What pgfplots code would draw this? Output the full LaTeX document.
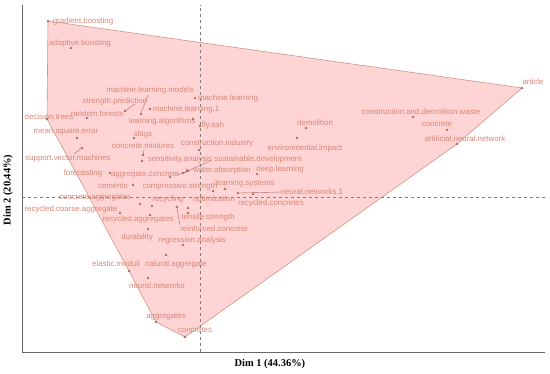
\documentclass[border=0pt]{standalone}
\usepackage{pgfplots}
\pgfplotsset{compat=1.18}
\usepackage{fontspec}
\setmainfont{Liberation Serif}
\newfontfamily\lab{Liberation Sans}
\definecolor{hullfill}{RGB}{255,212,212}
\definecolor{hullline}{RGB}{205,150,130}
\definecolor{labcol}{RGB}{215,135,120}
\definecolor{markcol}{RGB}{165,95,80}
\begin{document}
\begin{tikzpicture}
\begin{axis}[
  scale only axis, width=523bp, height=347bp,
  xmin=-178, xmax=345, ymin=-155, ymax=192,
  axis x line*=bottom, axis y line*=left,
  axis line style={gray!80!black, line width=0.6pt, -},
  ticks=none,
  xlabel={\bfseries Dim 1 (44.36\%)},
  ylabel={\bfseries Dim 2 (20.44\%)},
  xlabel style={at={(axis description cs:0.474,0)}, anchor=center, yshift=-12bp, font=\fontsize{10.5}{12}\selectfont},
  ylabel style={at={(axis description cs:0,0.467)}, anchor=center, yshift=14bp, font=\fontsize{10.5}{12}\selectfont},
  unbounded coords=jump,
  clip=false,
]
% convex hull
\addplot[fill=hullfill, draw=hullline, line width=0.6pt] coordinates {
 (-152,176) (322,109) (257,53) (-15,-140) (-44,-125) (-71,-74) (-153,78) (-152,176)};
% reference lines
\addplot[gray, dashed, line width=0.5pt] coordinates {(0,-155) (0,192)};
\addplot[gray, dashed, line width=0.5pt] coordinates {(-178,0) (345,0)};
% leader lines
\addplot[labcol!80!black, line width=0.4pt] coordinates {
 (-52,102) (-59,84) (nan,nan)
 (-65,93) (-75,86) (nan,nan)
 (-56,47) (-57,42) (nan,nan)
 (12,37) (-17,24) (nan,nan)
 (81,5) (40,4) (nan,nan)
 (-118,49) (-126,43) (nan,nan)
 (-23,-11) (-20,-28) (nan,nan)
 (-23,22) (-10,26)};
% points
\addplot[only marks, mark=triangle*, mark size=1.1pt, color=markcol] table {
x y
-152 176
-129 149
-59 83
-75 86
-113 79
-50 88
-5 99
-7 78
0 71
-153 78
-123 59
-118 49
-66 59
-57 42
-58 36
-1 47
-17 24
97 59
106 69
213 80
247 67
257 53
322 109
-90 24
-30 20
-13 27
57 23
25 8
-67 12
13 6
38 4
-60 -7
-48 -9
-12 -11
53 3
-80 -16
-50 -18
-12 -16
-23 -10
-52 -32
-17 -48
-34 -58
-71 -74
-52 -81
-44 -125
-15 -140
};
\begin{scope}[every node/.style={font=\lab\fontsize{7.9}{9}\selectfont, text=labcol, inner sep=0pt, anchor=center}]
\node at (axis cs:-117,176) {gradient.boosting};
\node at (axis cs:-120,154) {adaptive.boosting};
\node at (axis cs:-50,107) {machine.learning.models};
\node at (axis cs:-85,96) {strength.prediction};
\node at (axis cs:-103,83) {random.forests};
\node at (axis cs:-14,88) {machine.learning.1};
\node at (axis cs:28,99) {machine.learning};
\node at (axis cs:-38,76) {learning.algorithms};
\node at (axis cs:13,72) {fly.ash};
\node at (axis cs:-151,80) {decision.trees};
\node at (axis cs:-134,65) {mean.square.error};
\node at (axis cs:-132,39) {support.vector.machines};
\node at (axis cs:-57,63) {slags};
\node at (axis cs:-57,51) {concrete.mixtures};
\node at (axis cs:-20,38) {sensitivity.analysis};
\node at (axis cs:17,54) {construction.industry};
\node at (axis cs:58,38) {sustainable.development};
\node at (axis cs:105,49) {environmental.impact};
\node at (axis cs:115,74) {demolition};
\node at (axis cs:221,85) {construction.and.demolition.waste};
\node at (axis cs:237,73) {concrete};
\node at (axis cs:265,58) {artificial.neural.network};
\node at (axis cs:333,115) {article};
\node at (axis cs:-117,24) {forecasting};
\node at (axis cs:-55,22) {aggregate.concrete};
\node at (axis cs:22,27) {water.absorption};
\node at (axis cs:80,28) {deep.learning};
\node at (axis cs:45,14) {learning.systems};
\node at (axis cs:-87,11) {cements};
\node at (axis cs:-20,11) {compressive.strength};
\node at (axis cs:112,5) {neural.networks.1};
\node at (axis cs:-105,-1) {concrete.aggregates};
\node at (axis cs:-32,-2) {recycling};
\node at (axis cs:14,-2) {optimization};
\node at (axis cs:71,-6) {recycled.concretes};
\node at (axis cs:-129,-12) {recycled.coarse.aggregate};
\node at (axis cs:-62,-22) {recycled.aggregates};
\node at (axis cs:8,-20) {tensile.strength};
\node at (axis cs:14,-32) {reinforced.concrete};
\node at (axis cs:-63,-40) {durability};
\node at (axis cs:-8,-43) {regression.analysis};
\node at (axis cs:-24,-67) {natural.aggregate};
\node at (axis cs:-84,-67) {elastic.moduli};
\node at (axis cs:-43,-89) {neural.networks};
\node at (axis cs:-34,-120) {aggregates};
\node at (axis cs:-5,-133) {concretes};
\end{scope}
\end{axis}
\pgfresetboundingbox
\path[use as bounding box] (-22bp,-22bp) rectangle (528bp,352bp);
\end{tikzpicture}
\end{document}
